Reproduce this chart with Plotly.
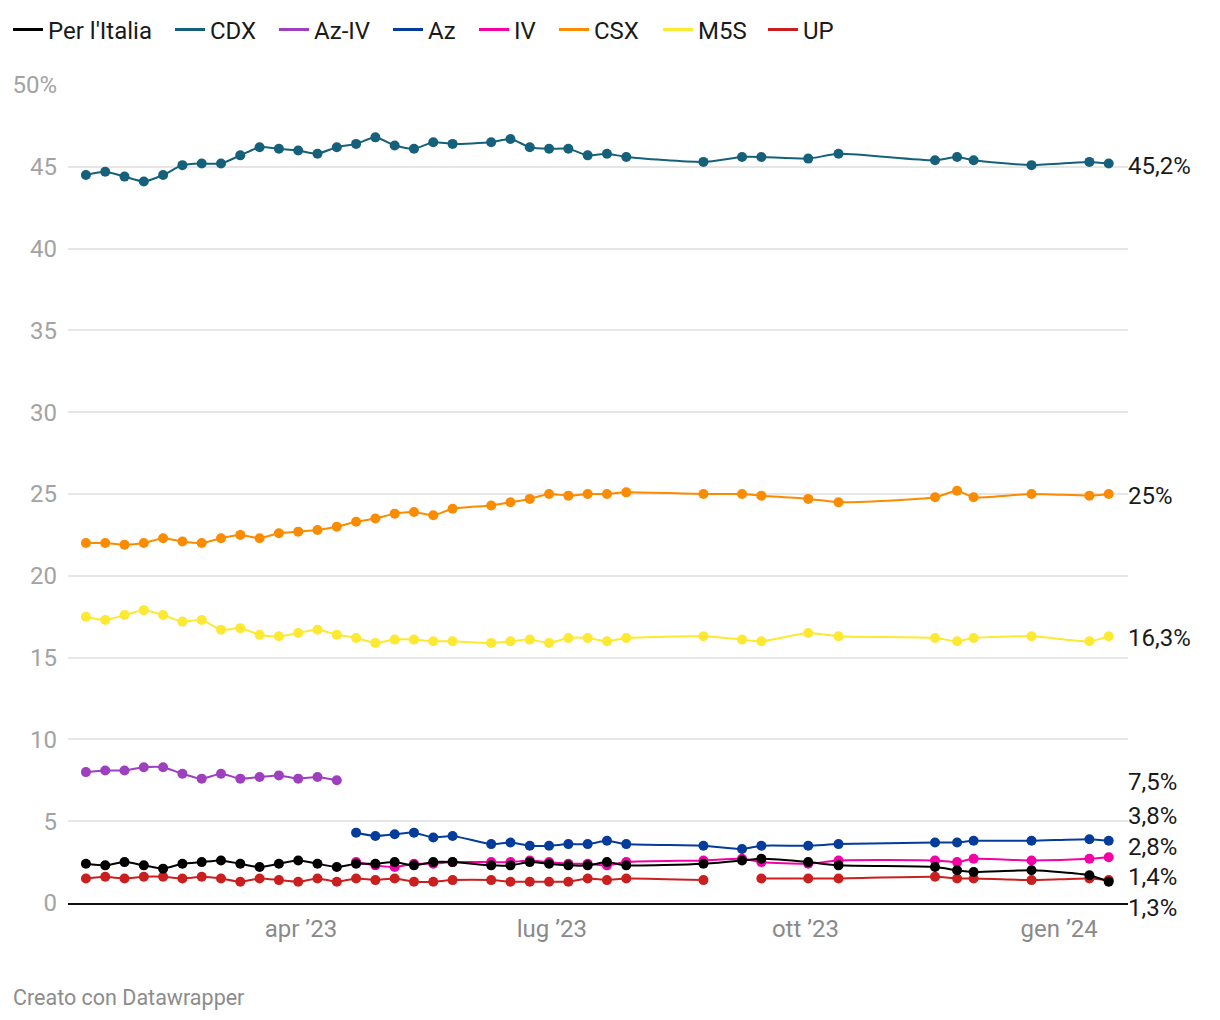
import plotly.graph_objects as go

# ---------------- data ----------------
dates = [
    "2023-01-13", "2023-01-20", "2023-01-27", "2023-02-03", "2023-02-10", "2023-02-17",
    "2023-02-24", "2023-03-03", "2023-03-10", "2023-03-17", "2023-03-24", "2023-03-31",
    "2023-04-07", "2023-04-14", "2023-04-21", "2023-04-28", "2023-05-05", "2023-05-12",
    "2023-05-19", "2023-05-26", "2023-06-09", "2023-06-16", "2023-06-23", "2023-06-30",
    "2023-07-07", "2023-07-14", "2023-07-21", "2023-07-28", "2023-08-25", "2023-09-08",
    "2023-09-15", "2023-10-02", "2023-10-13", "2023-11-17", "2023-11-25", "2023-12-01",
    "2023-12-22", "2024-01-12", "2024-01-19",
]

per_italia = [2.4, 2.3, 2.5, 2.3, 2.1, 2.4, 2.5, 2.6, 2.4, 2.2, 2.4, 2.6, 2.4, 2.2,
              2.4, 2.4, 2.5, 2.3, 2.5, 2.5,
              2.3, 2.3, 2.5, 2.4, 2.3, 2.3, 2.5, 2.3,
              2.4, 2.6, 2.7, 2.5, 2.3,
              2.2, 2.0, 1.9, 2.0, 1.7, 1.3]

cdx = [44.5, 44.7, 44.4, 44.1, 44.5, 45.1, 45.2, 45.2, 45.7, 46.2,
       46.1, 46.0, 45.8, 46.2, 46.4, 46.8, 46.3, 46.1, 46.5, 46.4,
       46.5, 46.7, 46.2, 46.1, 46.1, 45.7, 45.8, 45.6, 45.3, 45.6,
       45.6, 45.5, 45.8, 45.4, 45.6, 45.4, 45.1, 45.3, 45.2]

az_iv = [8.0, 8.1, 8.1, 8.3, 8.3, 7.9, 7.6, 7.9, 7.6, 7.7, 7.8, 7.6, 7.7, 7.5] + [None] * 25

az = [None] * 14 + [4.3, 4.1, 4.2, 4.3, 4.0, 4.1,
                    3.6, 3.7, 3.5, 3.5, 3.6, 3.6, 3.8, 3.6,
                    3.5, 3.3, 3.5, 3.5, 3.6,
                    3.7, 3.7, 3.8, 3.8, 3.9, 3.8]

iv = [None] * 14 + [2.5, 2.3, 2.2, 2.4, 2.4, 2.5,
                    2.5, 2.5, 2.6, 2.5, 2.4, 2.4, 2.3, 2.5,
                    2.6, 2.7, 2.5, 2.4, 2.6,
                    2.6, 2.5, 2.7, 2.6, 2.7, 2.8]

csx = [22.0, 22.0, 21.9, 22.0, 22.3, 22.1, 22.0, 22.3, 22.5, 22.3,
       22.6, 22.7, 22.8, 23.0, 23.3, 23.5, 23.8, 23.9, 23.7, 24.1,
       24.3, 24.5, 24.7, 25.0, 24.9, 25.0, 25.0, 25.1, 25.0, 25.0,
       24.9, 24.7, 24.5, 24.8, 25.2, 24.8, 25.0, 24.9, 25.0]

m5s = [17.5, 17.3, 17.6, 17.9, 17.6, 17.2, 17.3, 16.7, 16.8, 16.4,
       16.3, 16.5, 16.7, 16.4, 16.2, 15.9, 16.1, 16.1, 16.0, 16.0,
       15.9, 16.0, 16.1, 15.9, 16.2, 16.2, 16.0, 16.2, 16.3, 16.1,
       16.0, 16.5, 16.3, 16.2, 16.0, 16.2, 16.3, 16.0, 16.3]

up = [1.5, 1.6, 1.5, 1.6, 1.6, 1.5, 1.6, 1.5, 1.3, 1.5, 1.4, 1.3, 1.5, 1.3,
      1.5, 1.4, 1.5, 1.3, 1.3, 1.4,
      1.4, 1.3, 1.3, 1.3, 1.3, 1.5, 1.4, 1.5,
      1.4, None, 1.5, 1.5, 1.5,
      1.6, 1.5, 1.5, 1.4, 1.5, 1.4]

legend_order = ["Per l'Italia", "CDX", "Az-IV", "Az", "IV", "CSX", "M5S", "UP"]
series = {
    "Per l'Italia": per_italia, "CDX": cdx, "Az-IV": az_iv, "Az": az,
    "IV": iv, "CSX": csx, "M5S": m5s, "UP": up,
}
colors = {
    "Per l'Italia": "#000000", "CDX": "#15607a", "Az-IV": "#9d3fbf", "Az": "#053c9c",
    "IV": "#f400a6", "CSX": "#fb8b00", "M5S": "#fde832", "UP": "#cb1f1f",
}
draw_order = ["UP", "IV", "Az", "Az-IV", "M5S", "CSX", "CDX", "Per l'Italia"]

x_tick_vals = ["2023-04-01", "2023-07-01", "2023-10-01", "2024-01-01"]
x_tick_text = ["apr \u201923", "lug \u201923", "ott \u201923", "gen \u201924"]
y_tick_vals = [0, 5, 10, 15, 20, 25, 30, 35, 40, 45, 50]
y_tick_text = ["0", "5", "10", "15", "20", "25", "30", "35", "40", "45", "50%"]

FONT = "Roboto"
W, H = 1220, 1020
Y_MAX = 50

fig = go.Figure()

# real data traces
for name in draw_order:
    fig.add_trace(go.Scatter(
        x=dates, y=series[name], name=name, mode="lines+markers",
        line=dict(color=colors[name], width=2, shape="spline", smoothing=0.6),
        marker=dict(color=colors[name], size=10),
        connectgaps=False, showlegend=False, hoverinfo="x+y+name",
    ))

# one single-entry legend per series, laid out in a row at the top
legend_left_px = [8, 170, 274, 388, 474, 554, 658, 763]
legend_layout = {}
for k, name in enumerate(legend_order):
    lname = "legend" if k == 0 else f"legend{k + 1}"
    fig.add_trace(go.Scatter(
        x=[None], y=[None], name=name, mode="lines",
        line=dict(color=colors[name], width=3), showlegend=True, legend=lname,
    ))
    legend_layout[lname] = dict(
        orientation="h", xref="container", yref="container",
        x=legend_left_px[k] / W, y=1 - 30 / H, xanchor="left", yanchor="middle",
        font=dict(family=FONT, size=24, color="#1a1a1a"),
        itemwidth=30, bgcolor="rgba(0,0,0,0)", borderwidth=0,
    )


# end labels with simple de-overlap
def last_value(vals):
    for v in reversed(vals):
        if v is not None:
            return v
    return None


def fmt(v):
    s = f"{v:.1f}"
    if s.endswith(".0"):
        s = s[:-2]
    return s.replace(".", ",") + "%"


items = sorted(((last_value(series[n]), n) for n in legend_order), reverse=True)
min_gap = 1.88
groups = []
for v, n in items:
    groups.append([[v, n]])
    while len(groups) > 1:
        g1, g2 = groups[-2], groups[-1]
        c1 = sum(a for a, _ in g1) / len(g1)
        c2 = sum(a for a, _ in g2) / len(g2)
        bottom1 = c1 - (len(g1) - 1) * min_gap / 2
        top2 = c2 + (len(g2) - 1) * min_gap / 2
        if bottom1 - top2 < min_gap:
            groups[-2] = g1 + g2
            groups.pop()
        else:
            break

annotations = []
for g in groups:
    c = sum(a for a, _ in g) / len(g)
    top = c + (len(g) - 1) * min_gap / 2
    shift = -2 if len(g) == 1 else 3
    for k, (v, n) in enumerate(g):
        annotations.append(dict(
            x=1.0, xref="paper", y=(top - k * min_gap) / Y_MAX, yref="paper",
            text=fmt(v), showarrow=False, xanchor="left", yanchor="middle",
            xshift=-2, yshift=shift, font=dict(family=FONT, size=24, color="#1a1a1a"),
        ))

annotations.append(dict(
    x=(9 - 66) / 1062, xref="paper", y=-(997 - 903) / 818, yref="paper",
    text="Creato con Datawrapper", showarrow=False,
    xanchor="left", yanchor="middle",
    font=dict(family=FONT, size=21.5, color="#8c8c8c"),
))

fig.update_layout(
    width=W, height=H,
    margin=dict(l=66, r=92, t=85, b=117),
    paper_bgcolor="white", plot_bgcolor="white",
    font=dict(family=FONT, size=24, color="#222"),
    showlegend=True,
    annotations=annotations,
    hovermode="closest",
    **legend_layout,
)

fig.update_xaxes(
    type="date",
    range=["2023-01-06 12:00", "2024-01-26"],
    tickmode="array", tickvals=x_tick_vals, ticktext=x_tick_text,
    showgrid=False, zeroline=False,
    showline=True, linecolor="#111", linewidth=2,
    ticks="", ticklabelstandoff=3,
    tickfont=dict(family=FONT, size=24, color="#8a8a8a"),
)

fig.update_yaxes(
    range=[0, Y_MAX],
    tickmode="array", tickvals=y_tick_vals, ticktext=y_tick_text,
    showgrid=True, gridcolor="#e6e6e6", gridwidth=1.5,
    zeroline=False, showline=False, ticks="",
    ticklabelstandoff=10,
    tickfont=dict(family=FONT, size=24, color="#a3a3a3"),
)

fig.write_html("out.html", config={"displayModeBar": False},
               post_script="document.body.style.margin='0';")
